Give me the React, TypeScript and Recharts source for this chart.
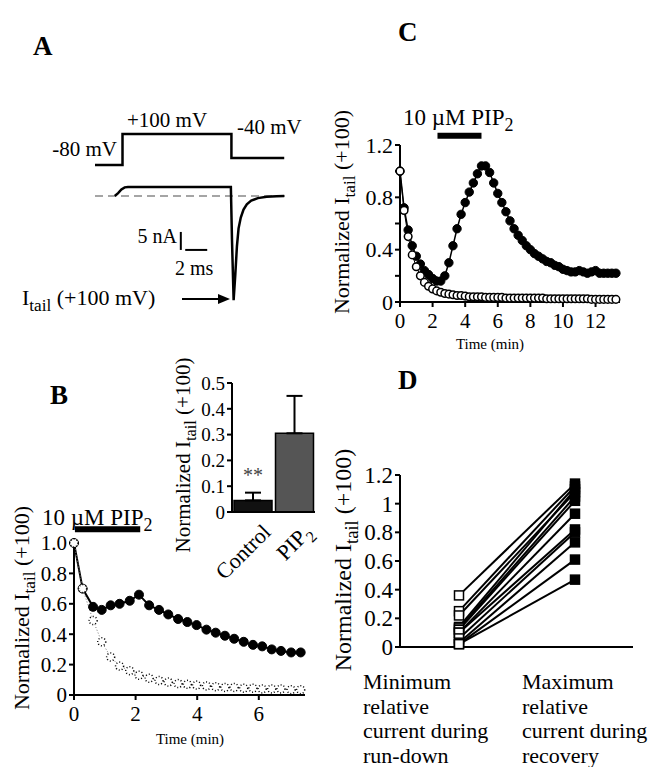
import React from 'react';
import {
  ComposedChart, BarChart, LineChart, Line, Bar, XAxis, YAxis, ReferenceLine, ErrorBar, Cell,
} from 'recharts';

const SERIF = '"Liberation Serif", "Times New Roman", serif';

// A: voltage protocol and the current it evokes (schematic trace)
const protocolMs = [0, 2.5, 2.5, 12.4, 12.4, 17.2];
const protocolMv = [-80, -80, 100, 100, -40, -40];
const traceMs = [1.8, 2.1, 2.4, 2.7, 3.0, 12.35, 12.45, 12.6, 12.75, 12.9, 13.05, 13.25, 13.5, 13.8, 14.2, 14.8, 15.6, 16.5, 17.2];
const traceNa = [0, 0.8, 1.8, 2.4, 2.5, 2.5, -12, -29, -22, -14, -9, -6, -3.8, -2.3, -1.3, -0.6, -0.2, -0.05, 0];

// B: run-down with / without PIP2 (min)
const bTime = [0, 0.28, 0.62, 0.9, 1.19, 1.48, 1.81, 2.11, 2.44, 2.76, 3.06, 3.38, 3.68, 3.98, 4.3, 4.6, 4.9, 5.2, 5.51, 5.81, 6.11, 6.42, 6.72, 7.05, 7.36];
const bRecovery = [1.0, 0.7, 0.58, 0.56, 0.59, 0.6, 0.62, 0.66, 0.59, 0.56, 0.53, 0.5, 0.48, 0.46, 0.43, 0.41, 0.39, 0.37, 0.35, 0.33, 0.32, 0.3, 0.29, 0.28, 0.28];
const bRundown = [1.0, 0.7, 0.49, 0.35, 0.25, 0.19, 0.16, 0.13, 0.11, 0.095, 0.085, 0.075, 0.07, 0.065, 0.06, 0.055, 0.05, 0.05, 0.045, 0.045, 0.04, 0.04, 0.04, 0.035, 0.035];

// B inset: mean +/- SEM
const insetGroups = ['Control', 'PIP2'];
const insetMeans = [0.045, 0.305];
const insetSem = [0.03, 0.145];

// C: run-down then PIP2 recovery (min)
const cTime = [0, 0.25, 0.5, 0.75, 1, 1.25, 1.5, 1.75, 2, 2.25, 2.5, 2.75, 3, 3.25, 3.5, 3.75, 4, 4.25, 4.5, 4.75, 5, 5.25, 5.5, 5.75, 6, 6.25, 6.5, 6.75, 7, 7.25, 7.5, 7.75, 8, 8.25, 8.5, 8.75, 9, 9.25, 9.5, 9.75, 10, 10.25, 10.5, 10.75, 11, 11.25, 11.5, 11.75, 12, 12.25, 12.5, 12.75, 13, 13.25];
const cRecovery = [1.0, 0.72, 0.55, 0.43, 0.35, 0.29, 0.24, 0.21, 0.18, 0.16, 0.16, 0.2, 0.3, 0.43, 0.56, 0.67, 0.76, 0.84, 0.91, 0.98, 1.04, 1.04, 0.99, 0.91, 0.83, 0.76, 0.69, 0.62, 0.56, 0.51, 0.47, 0.43, 0.4, 0.37, 0.35, 0.33, 0.31, 0.3, 0.28, 0.27, 0.25, 0.24, 0.23, 0.23, 0.24, 0.23, 0.22, 0.23, 0.24, 0.22, 0.22, 0.22, 0.22, 0.22];
const cRundown = [1.0, 0.7, 0.5, 0.36, 0.27, 0.2, 0.15, 0.12, 0.1, 0.085, 0.075, 0.065, 0.06, 0.055, 0.05, 0.05, 0.045, 0.04, 0.04, 0.04, 0.04, 0.035, 0.035, 0.035, 0.035, 0.035, 0.03, 0.03, 0.03, 0.03, 0.03, 0.03, 0.03, 0.03, 0.03, 0.03, 0.025, 0.025, 0.025, 0.025, 0.025, 0.025, 0.025, 0.025, 0.025, 0.025, 0.025, 0.02, 0.02, 0.02, 0.02, 0.02, 0.02, 0.02];

// D: per-cell minimum during run-down vs maximum during recovery
const dMin = [0.36, 0.25, 0.22, 0.14, 0.13, 0.12, 0.1, 0.1, 0.06, 0.03, 0.02, 0.02];
const dMax = [1.14, 1.12, 1.08, 1.1, 1.05, 1.02, 0.93, 0.82, 0.8, 0.73, 0.61, 0.47];

const protocolData = protocolMs.map((t, i) => ({ t, mv: protocolMv[i] }));
const traceData = traceMs.map((t, i) => ({ t, na: traceNa[i] }));
const bData = bTime.map((t, i) => ({ t, recovery: bRecovery[i], rundown: bRundown[i] }));
const cData = cTime.map((t, i) => ({ t, recovery: cRecovery[i], rundown: cRundown[i] }));
const insetData = insetGroups.map((g, i) => ({ group: g, mean: insetMeans[i], err: [0, insetSem[i]] }));
const dData = [
  Object.fromEntries([['phase', 'min'], ...dMin.map((v, i) => [`c${i}`, v])]),
  Object.fromEntries([['phase', 'max'], ...dMax.map((v, i) => [`c${i}`, v])]),
];

const axisLine = { stroke: '#000', strokeWidth: 2 };
const tickLine = { stroke: '#000', strokeWidth: 2 };
const tick = (size: number) => ({ fontSize: size, fill: '#000', fontFamily: SERIF });

const Sub = ({ children, size = '0.78em' }: any) => (
  <span style={{ fontSize: size, position: 'relative', top: '0.35em' }}>{children}</span>
);

function Txt({ x, y, size = 21, anchor = 'start', weight = 400, children }: any) {
  const shift = anchor === 'end' ? '-100%' : anchor === 'middle' ? '-50%' : '0';
  return (
    <div style={{
      position: 'absolute', left: x, top: y - size * 0.84, fontSize: size, fontWeight: weight,
      lineHeight: 1, whiteSpace: 'nowrap', transform: `translateX(${shift})`,
    }}>{children}</div>
  );
}

function YLabel({ cx, cy, size }: any) {
  return (
    <div style={{
      position: 'absolute', left: cx, top: cy, fontSize: size, lineHeight: 1, whiteSpace: 'nowrap',
      transform: 'translate(-50%, -50%) rotate(-90deg)',
    }}>Normalized I<Sub>tail</Sub> (+100)</div>
  );
}

const Pip2 = () => <>PIP<Sub>2</Sub></>;

const InsetTick = ({ x, y, payload }: any) => (
  <g transform={`translate(${x + 8},${y + 2})`}>
    <text transform="rotate(-45)" textAnchor="end" fontSize={22} fontFamily={SERIF} fill="#000" dy={16}>
      {payload.value === 'PIP2' ? (<>PIP<tspan fontSize={16} dy={6}>2</tspan></>) : payload.value}
    </text>
  </g>
);

const squareDot = (p: any) => {
  if (p.cx == null || p.cy == null) return <g key={`s-${p.index}`} />;
  const open = p.index === 0;
  return (
    <rect key={`s-${p.index}`} x={p.cx - 4.5} y={p.cy - 4.5} width={9} height={9}
      fill={open ? '#fff' : '#000'} stroke="#000" strokeWidth={1.5} />
  );
};

export default function App() {
  return (
    <div style={{ position: 'absolute', left: 0, top: 0, width: 655, height: 767, background: '#fff', fontFamily: SERIF, color: '#000', overflow: 'hidden' }}>
      {/* Panel letters */}
      <Txt x={33} y={56} size={27} weight={700}>A</Txt>
      <Txt x={398} y={42} size={27} weight={700}>C</Txt>
      <Txt x={50} y={405} size={27} weight={700}>B</Txt>
      <Txt x={398} y={390} size={27} weight={700}>D</Txt>

      {/* Panel A */}
      <div style={{ position: 'absolute', left: 95, top: 110 }}>
        <ComposedChart width={190} height={200} margin={{ top: 0, right: 0, bottom: 0, left: 0 }}>
          <XAxis dataKey="t" type="number" domain={[0, 17.27]} hide />
          <YAxis yAxisId="v" type="number" domain={[-922, 239]} hide />
          <YAxis yAxisId="i" type="number" domain={[-31.7, 23.9]} hide />
          <ReferenceLine yAxisId="i" y={0} stroke="#888" strokeWidth={1.5} strokeDasharray="8 5" />
          <ReferenceLine yAxisId="i" segment={[{ x: 7.8, y: -10 }, { x: 7.8, y: -15 }]} stroke="#000" strokeWidth={2} />
          <ReferenceLine yAxisId="i" segment={[{ x: 8.2, y: -15 }, { x: 10.2, y: -15 }]} stroke="#000" strokeWidth={2} />
          <Line yAxisId="v" data={protocolData} dataKey="mv" type="linear" stroke="#000" strokeWidth={2.5} dot={false} activeDot={false} isAnimationActive={false} />
          <Line yAxisId="i" data={traceData} dataKey="na" type="linear" stroke="#000" strokeWidth={2.5} dot={false} activeDot={false} isAnimationActive={false} />
        </ComposedChart>
      </div>
      <Txt x={117} y={157} size={21} anchor="end">-80 mV</Txt>
      <Txt x={127} y={128} size={21}>+100 mV</Txt>
      <Txt x={237} y={135} size={21}>-40 mV</Txt>
      <Txt x={177} y={243} size={20} anchor="end">5 nA</Txt>
      <Txt x={175} y={275} size={20}>2 ms</Txt>
      <Txt x={22} y={305} size={22}>I<Sub>tail</Sub> (+100 mV)</Txt>
      <svg style={{ position: 'absolute', left: 180, top: 292 }} width={52} height={14}>
        <line x1={2} y1={7} x2={40} y2={7} stroke="#000" strokeWidth={2} />
        <polygon points="38,2 50,7 38,12" fill="#000" />
      </svg>

      {/* Panel C */}
      <div style={{ position: 'absolute', left: 330, top: 100 }}>
        <ComposedChart width={300} height={250} data={cData} margin={{ top: 45, right: 10, bottom: 18, left: 0 }}>
          <XAxis dataKey="t" type="number" domain={[0, 13.5]} ticks={[0, 2, 4, 6, 8, 10, 12]} height={30} interval={0}
            axisLine={axisLine} tickLine={tickLine} tickSize={5} tickMargin={6} tick={tick(21)} />
          <YAxis type="number" domain={[0, 1.2]} ticks={[0, 0.2, 0.4, 0.6, 0.8, 1, 1.2]} width={70} interval={0}
            tickFormatter={(v: number) => (Math.round(v * 10) % 4 === 0 ? (v === 0 ? '0' : v.toFixed(1)) : '')}
            axisLine={axisLine} tickLine={tickLine} tickSize={5} tick={tick(22)} />
          <ReferenceLine segment={[{ x: 2.3, y: 1.27 }, { x: 5, y: 1.27 }]} stroke="#000" strokeWidth={6} ifOverflow="visible" />
          <Line dataKey="recovery" type="linear" stroke="#000" strokeWidth={1.5}
            dot={{ r: 4.2, fill: '#000', stroke: '#000', strokeWidth: 1 }} activeDot={false} isAnimationActive={false} />
          <Line dataKey="rundown" type="linear" stroke="#000" strokeWidth={1}
            dot={{ r: 3.8, fill: '#fff', stroke: '#000', strokeWidth: 1.5 }} activeDot={false} isAnimationActive={false} />
        </ComposedChart>
      </div>
      <Txt x={403} y={125} size={23}>10 µM <Pip2 /></Txt>
      <Txt x={490} y={350} size={15} anchor="middle">Time (min)</Txt>
      <YLabel cx={342} cy={212} size={22} />

      {/* Panel B main */}
      <div style={{ position: 'absolute', left: 0, top: 500 }}>
        <ComposedChart width={320} height={250} data={bData} margin={{ top: 43, right: 15, bottom: 25, left: 0 }}>
          <XAxis dataKey="t" type="number" domain={[0, 7.5]} ticks={[0, 2, 4, 6]} height={30} interval={0}
            axisLine={axisLine} tickLine={tickLine} tickSize={5} tickMargin={6} tick={tick(21)} />
          <YAxis type="number" domain={[0, 1]} ticks={[0, 0.2, 0.4, 0.6, 0.8, 1]} width={74} interval={0}
            tickFormatter={(v: number) => (v === 0 ? '0' : v.toFixed(1))}
            axisLine={axisLine} tickLine={tickLine} tickSize={5} tick={tick(21)} />
          <ReferenceLine segment={[{ x: 0.03, y: 1.09 }, { x: 2.15, y: 1.09 }]} stroke="#000" strokeWidth={6} ifOverflow="visible" />
          <Line dataKey="recovery" type="linear" stroke="#000" strokeWidth={2}
            dot={{ r: 4.5, fill: '#000', stroke: '#000', strokeWidth: 1 }} activeDot={false} isAnimationActive={false} />
          <Line dataKey="rundown" type="linear" stroke="#777" strokeWidth={1} strokeDasharray="1 2"
            dot={{ r: 4, fill: '#fff', stroke: '#000', strokeWidth: 1.5 }} activeDot={false} isAnimationActive={false} />
        </ComposedChart>
      </div>
      <Txt x={42} y={525} size={23}>10 µM <Pip2 /></Txt>
      <Txt x={190} y={745} size={15} anchor="middle">Time (min)</Txt>
      <YLabel cx={22} cy={608} size={22} />

      {/* Panel B inset */}
      <div style={{ position: 'absolute', left: 170, top: 370 }}>
        <BarChart width={150} height={230} data={insetData} barCategoryGap={2} margin={{ top: 13, right: 5, bottom: 30, left: 0 }}>
          <XAxis dataKey="group" type="category" height={58} axisLine={axisLine} tickLine={false} interval={0} tick={<InsetTick />} />
          <YAxis type="number" domain={[0, 0.5]} ticks={[0, 0.1, 0.2, 0.3, 0.4, 0.5]} width={62} interval={0}
            tickFormatter={(v: number) => (v === 0 ? '0' : v.toFixed(1))}
            axisLine={axisLine} tickLine={tickLine} tickSize={5} tick={tick(19)} />
          <Bar dataKey="mean" stroke="#000" strokeWidth={1.5} isAnimationActive={false}>
            {insetData.map((d, i) => (
              <Cell key={`b-${i}`} fill={i === 0 ? '#111' : '#555'} />
            ))}
            <ErrorBar dataKey="err" direction="y" width={8} stroke="#000" strokeWidth={2} isAnimationActive={false} />
          </Bar>
        </BarChart>
      </div>
      <Txt x={253} y={482} size={20} anchor="middle"><span style={{ color: '#444' }}>**</span></Txt>
      <YLabel cx={183} cy={455} size={21} />

      {/* Panel D */}
      <div style={{ position: 'absolute', left: 330, top: 440 }}>
        <LineChart width={320} height={237} data={dData} margin={{ top: 35, right: 17, bottom: 0, left: 0 }}>
          <XAxis dataKey="phase" type="category" padding={{ left: 59, right: 58 }} height={30}
            axisLine={axisLine} tickLine={tickLine} tickSize={8} tick={false} />
          <YAxis type="number" domain={[0, 1.2]} ticks={[0, 0.2, 0.4, 0.6, 0.8, 1, 1.2]} width={70} interval={0}
            axisLine={axisLine} tickLine={tickLine} tickSize={5} tick={tick(23)} />
          {dMin.map((_, i) => (
            <Line key={`c${i}`} dataKey={`c${i}`} type="linear" stroke="#000" strokeWidth={2}
              dot={squareDot} activeDot={false} isAnimationActive={false} />
          ))}
        </LineChart>
      </div>
      <div style={{ position: 'absolute', left: 363, top: 670, fontSize: 22, lineHeight: '24.5px' }}>
        Minimum<br />relative<br />current during<br />run-down
      </div>
      <div style={{ position: 'absolute', left: 522, top: 670, fontSize: 22, lineHeight: '24.5px' }}>
        Maximum<br />relative<br />current during<br />recovery
      </div>
      <YLabel cx={343} cy={560} size={24} />
    </div>
  );
}
